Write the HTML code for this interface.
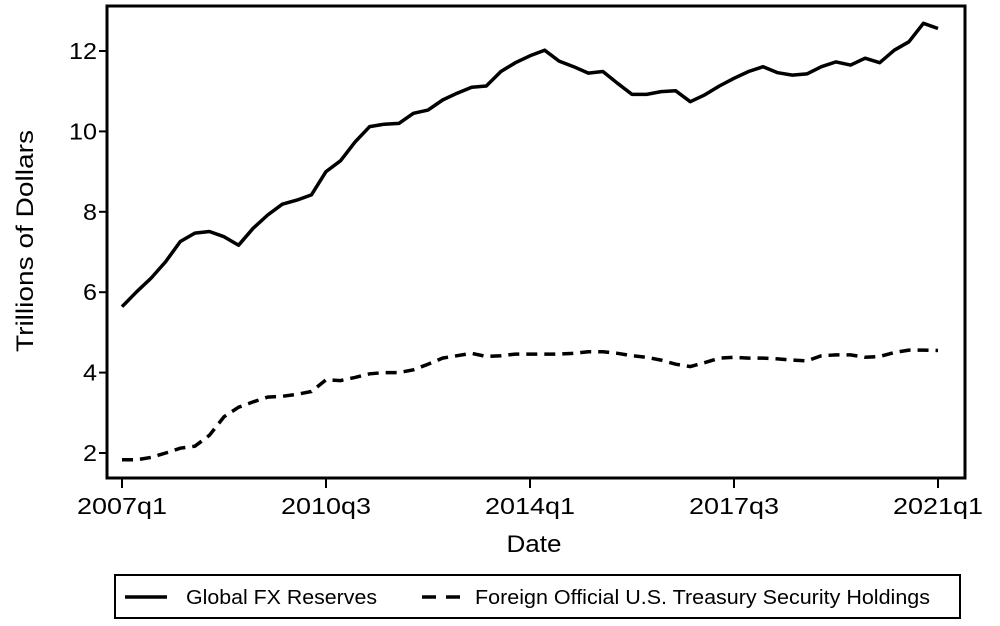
<!DOCTYPE html>
<html><head><meta charset="utf-8"><style>
html,body{margin:0;padding:0;background:#fff;}
svg{display:block;font-family:"Liberation Sans",Arial,sans-serif;}
</style></head><body>
<svg id="chart" width="1000" height="626" viewBox="0 0 1000 626">
<rect x="0" y="0" width="1000" height="626" fill="#fff"/>
<g id="plot"></g>
<rect x="107" y="6" width="858" height="472" fill="none" stroke="#000" stroke-width="3"/>
<text x="0" y="0" transform="translate(33,241) rotate(-90)" text-anchor="middle" font-size="24" textLength="222" lengthAdjust="spacingAndGlyphs">Trillions of Dollars</text>
<text x="534" y="552" text-anchor="middle" font-size="24" textLength="55" lengthAdjust="spacingAndGlyphs">Date</text>
<g>
<rect x="115" y="575" width="845" height="43" fill="none" stroke="#000" stroke-width="2"/>
<line x1="125" y1="597" x2="167" y2="597" stroke="#000" stroke-width="3.5"/>
<text x="186" y="604" font-size="20" textLength="191" lengthAdjust="spacingAndGlyphs">Global FX Reserves</text>
<line x1="422" y1="597" x2="460" y2="597" stroke="#000" stroke-width="3.5" stroke-dasharray="14,10"/>
<text x="475" y="604" font-size="20" textLength="455" lengthAdjust="spacingAndGlyphs">Foreign Official U.S. Treasury Security Holdings</text>
</g>
</svg>
<script>
const globalFx = [5.64,6.01,6.35,6.76,7.26,7.47,7.51,7.38,7.17,7.59,7.92,8.19,8.29,8.42,9.00,9.27,9.74,10.12,10.18,10.20,10.45,10.53,10.78,10.95,11.10,11.13,11.49,11.71,11.88,12.02,11.75,11.61,11.45,11.49,11.20,10.92,10.92,10.99,11.01,10.74,10.91,11.13,11.32,11.49,11.61,11.46,11.40,11.43,11.61,11.73,11.65,11.82,11.71,12.02,12.23,12.69,12.56];
const treasury = [1.83,1.83,1.89,2.00,2.12,2.17,2.44,2.90,3.14,3.27,3.39,3.41,3.46,3.53,3.82,3.80,3.88,3.97,4.00,4.00,4.07,4.21,4.36,4.42,4.48,4.40,4.42,4.46,4.46,4.46,4.46,4.48,4.52,4.52,4.48,4.42,4.38,4.31,4.21,4.15,4.25,4.36,4.38,4.36,4.36,4.34,4.31,4.29,4.42,4.44,4.44,4.38,4.40,4.50,4.56,4.56,4.55];
const yTicks = [2,4,6,8,10,12];
const xTickIdx = [0,14,28,42,56];
const xTickLabels = ["2007q1","2010q3","2014q1","2017q3","2021q1"];

const NS = "http://www.w3.org/2000/svg";
const svg = document.getElementById('chart');
const plot = document.getElementById('plot');
const xScale = i => 122 + i * (938 - 122) / 56;
const yScale = v => 453 - (v - 2) * (453 - 51) / 10;

yTicks.forEach(t => {
  const y = yScale(t);
  const ln = document.createElementNS(NS, 'line');
  ln.setAttribute('x1', 99); ln.setAttribute('x2', 107);
  ln.setAttribute('y1', y); ln.setAttribute('y2', y);
  ln.setAttribute('stroke', '#000'); ln.setAttribute('stroke-width', 2);
  
  
  svg.appendChild(ln);
  const tx = document.createElementNS(NS, 'text');
  tx.setAttribute('x', 97); tx.setAttribute('y', y + 8);
  tx.setAttribute('text-anchor', 'end'); tx.setAttribute('font-size', 23);
  tx.setAttribute('textLength', String(t).length * 14);
  tx.setAttribute('lengthAdjust', 'spacingAndGlyphs');
  tx.textContent = t;
  
  
  svg.appendChild(tx);
});
xTickIdx.forEach((q, k) => {
  const x = xScale(q);
  const ln = document.createElementNS(NS, 'line');
  ln.setAttribute('x1', x); ln.setAttribute('x2', x);
  ln.setAttribute('y1', 478); ln.setAttribute('y2', 488);
  ln.setAttribute('stroke', '#000'); ln.setAttribute('stroke-width', 2);
  
  
  svg.appendChild(ln);
  const tx = document.createElementNS(NS, 'text');
  tx.setAttribute('x', x); tx.setAttribute('y', 514);
  tx.setAttribute('text-anchor', 'middle'); tx.setAttribute('font-size', 23);
  tx.setAttribute('textLength', 90);
  tx.setAttribute('lengthAdjust', 'spacingAndGlyphs');
  tx.textContent = xTickLabels[k];
  
  
  svg.appendChild(tx);
});
function pts(arr){ return arr.map((v,i)=>xScale(i).toFixed(1)+','+yScale(v).toFixed(1)).join(' '); }
const l1 = document.createElementNS(NS, 'polyline');
l1.setAttribute('points', pts(globalFx));
l1.setAttribute('fill', 'none'); l1.setAttribute('stroke', '#000');
l1.setAttribute('stroke-width', 3.5); l1.setAttribute('stroke-linejoin', 'round');


plot.appendChild(l1);
const l2 = document.createElementNS(NS, 'polyline');
l2.setAttribute('points', pts(treasury));
l2.setAttribute('fill', 'none'); l2.setAttribute('stroke', '#000');
l2.setAttribute('stroke-width', 3.5); l2.setAttribute('stroke-dasharray', '11,7');


plot.appendChild(l2);
</script>
</body></html>
